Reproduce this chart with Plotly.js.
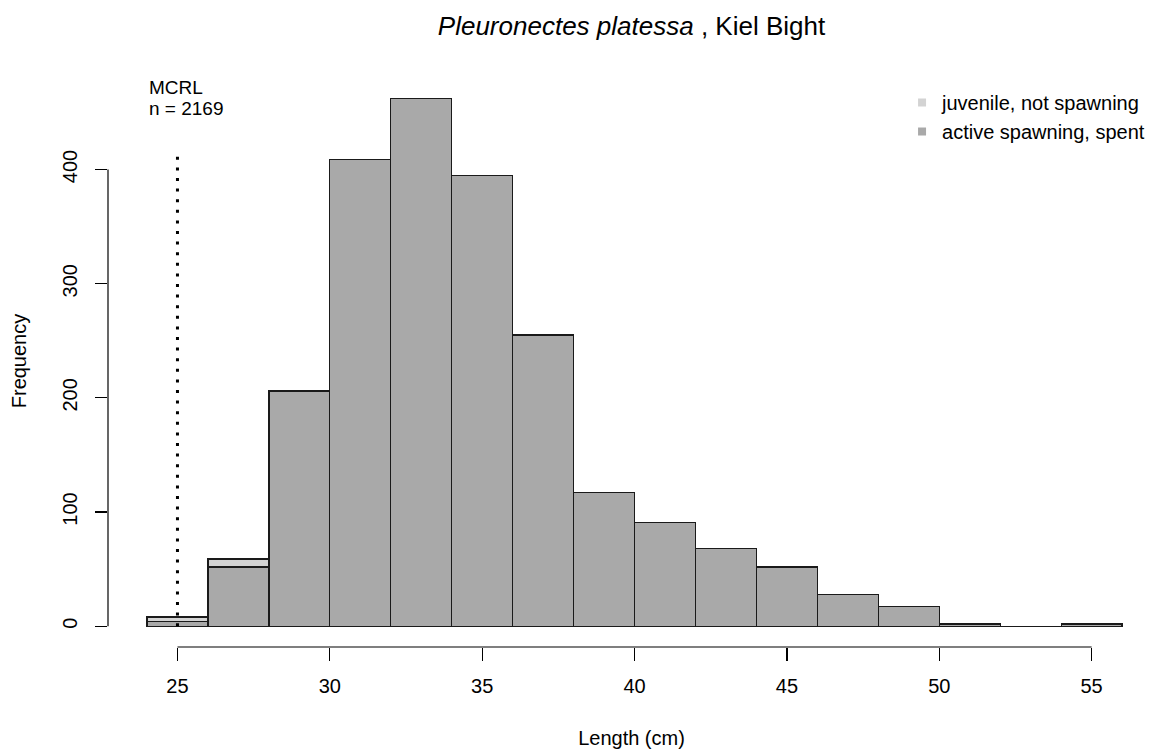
<!DOCTYPE html>
<html>
<head>
<meta charset="utf-8">
<script src="https://cdn.plot.ly/plotly-3.0.1.min.js"></script>
<style>html,body{margin:0;padding:0;background:#fff;}#chart{width:1155px;height:749px;}</style>
</head>
<body>
<div id="chart"></div>
<script>
// Length bins (cm): centres of 2-cm classes 24-26 ... 54-56
const binCentres = [25, 27, 29, 31, 33, 35, 37, 39, 41, 43, 45, 47, 49, 51, 53, 55];
const activeSpent = [4, 52, 206, 409, 462, 395, 255, 117, 91, 68, 52, 28, 17, 2, 0, 2];
const juvenile    = [4, 7, 0, 0, 0, 0, 0, 0, 0, 0, 0, 0, 0, 0, 0, 0];
const xTicks = [25, 30, 35, 40, 45, 50, 55];
const yTicks = [0, 100, 200, 300, 400];
const mcrl = 25;
const mcrlLineTop = 413;
const nTotal = 2169;
const seriesNames = ["juvenile, not spawning", "active spawning, spent"];
const colJuv = "#d3d3d3", colAct = "#a9a9a9";

const FONT = "Liberation Sans, Arial, sans-serif";
const outline = {color: "#1a1a1a", width: 1.3};

const traces = [
  {type: "bar", x: binCentres, y: activeSpent, width: 2, marker: {color: colAct, line: outline},
   showlegend: false, hoverinfo: "x+y", name: seriesNames[1]},
  {type: "bar", x: binCentres, y: juvenile, width: 2, marker: {color: colJuv, line: outline},
   showlegend: false, hoverinfo: "x+y", name: seriesNames[0]},
  {type: "scatter", mode: "markers", x: [null], y: [null], name: seriesNames[0],
   marker: {symbol: "square", size: 8, color: colJuv}},
  {type: "scatter", mode: "markers", x: [null], y: [null], name: seriesNames[1],
   marker: {symbol: "square", size: 8, color: colAct}}
];

const layout = {
  width: 1155, height: 749,
  margin: {l: 108, r: 0, t: 75, b: 102},
  paper_bgcolor: "#fff", plot_bgcolor: "#fff",
  font: {family: FONT, size: 20, color: "#000"},
  barmode: "stack", bargap: 0,
  title: {text: "<i>Pleuronectes platessa</i> , Kiel Bight", font: {size: 26, color: "#000"},
          x: 0.5, xref: "paper", xanchor: "center", y: 0.965, yref: "container", yanchor: "middle"},
  xaxis: {range: [22.72, 57.08], showline: false, showgrid: false, zeroline: false,
          tickmode: "array", tickvals: xTicks, ticks: "outside", ticklen: 13, tickwidth: 1.2, tickcolor: "#000",
          tickfont: {size: 20}, automargin: false, ticklabelstandoff: 8,
          title: {text: "Length (cm)", font: {size: 20}, standoff: 36}},
  yaxis: {range: [-18.2, 482.8], showline: false, showgrid: false, zeroline: false,
          tickmode: "array", tickvals: yTicks, ticks: "outside", ticklen: 12, tickwidth: 1.2, tickcolor: "#000",
          tickangle: -90, tickfont: {size: 20}, automargin: false, ticklabelstandoff: 10,
          title: {text: "Frequency", font: {size: 20}, standoff: 27}},
  legend: {x: 0.7584, xanchor: "left", y: 0.986, yanchor: "top", bgcolor: "rgba(0,0,0,0)",
           font: {size: 20}, traceorder: "normal", tracegroupgap: 0},
  shapes: [
    {type: "line", xref: "x", yref: "paper", x0: xTicks[0], x1: xTicks[xTicks.length-1], y0: 0, y1: 0,
     line: {color: "#000", width: 1.2}},
    {type: "line", xref: "paper", yref: "y", x0: 0, x1: 0, y0: yTicks[0], y1: yTicks[yTicks.length-1],
     line: {color: "#000", width: 1.2}},
    {type: "line", xref: "x", yref: "y", x0: mcrl, x1: mcrl, y0: 0, y1: mcrlLineTop,
     line: {color: "#000", width: 3, dash: "3px,7.6px"}}
  ],
  annotations: [
    {text: "MCRL", x: 24, y: 472, xref: "x", yref: "y", xanchor: "left", yanchor: "middle",
     showarrow: false, font: {size: 19}},
    {text: "n = " + nTotal, x: 24, y: 453.5, xref: "x", yref: "y", xanchor: "left", yanchor: "middle",
     showarrow: false, font: {size: 19}}
  ]
};

Plotly.newPlot("chart", traces, layout, {displayModeBar: false, staticPlot: true});
</script>
</body>
</html>
